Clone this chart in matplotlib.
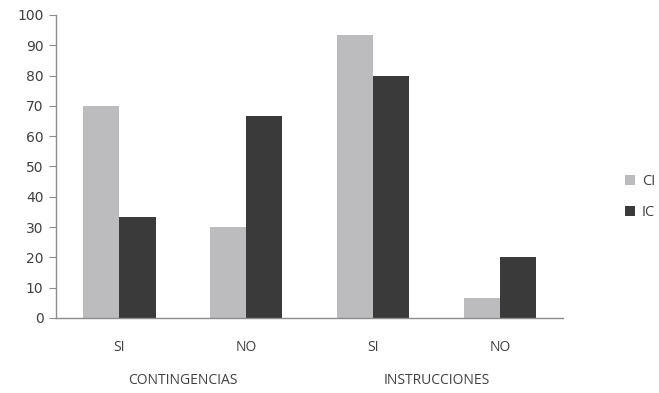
import matplotlib
matplotlib.use('Agg')
import matplotlib.pyplot as plt
import numpy as np

categories = ["SI", "NO", "SI", "NO"]
groups = ["CONTINGENCIAS", "INSTRUCCIONES"]
series_names = ["CI", "IC"]
ci_values = [70, 30, 93.3, 6.7]
ic_values = [33.3, 66.7, 80, 20]

colors = ["#bcbcbe", "#3a3a3a"]
text_color = "#404040"
axis_color = "#8c8c8c"

fig = plt.figure(figsize=(6.59, 3.93), dpi=100)
ax = fig.add_axes([0.085, 0.191, 0.77, 0.771])

x = np.arange(len(categories))
w = 0.285
ax.bar(x - w / 2, ci_values, w, color=colors[0], label=series_names[0])
ax.bar(x + w / 2, ic_values, w, color=colors[1], label=series_names[1])

ax.set_xlim(-0.5, len(categories) - 0.5)
ax.set_ylim(0, 100)
ax.set_yticks(range(0, 101, 10))
ax.tick_params(axis='y', direction='out', length=5, color=axis_color,
               labelsize=10, labelcolor=text_color, pad=4)
ax.set_xticks(x)
ax.set_xticklabels(categories, fontfamily="Open Sans", fontsize=10)
ax.tick_params(axis='x', length=0, labelcolor=text_color, pad=16)

for s in ["top", "right"]:
    ax.spines[s].set_visible(False)
for s in ["left", "bottom"]:
    ax.spines[s].set_color(axis_color)
    ax.spines[s].set_linewidth(1)

# etiquetas de grupo
for i, g in enumerate(groups):
    ax.text(2 * i + 0.5, -0.205, g, transform=ax.get_xaxis_transform(),
            ha='center', va='center', fontsize=10, fontfamily="Open Sans",
            color=text_color)

leg = fig.legend(loc='center left', bbox_to_anchor=(625 / 659, 1 - 197 / 393),
                 frameon=False, handlelength=0.7, handleheight=0.7,
                 labelspacing=1.1, fontsize=10.5, handletextpad=0.45,
                 borderaxespad=0, borderpad=0)
for t in leg.get_texts():
    t.set_color(text_color)
    t.set_fontfamily("Open Sans")

plt.savefig("out.png", dpi=100)
